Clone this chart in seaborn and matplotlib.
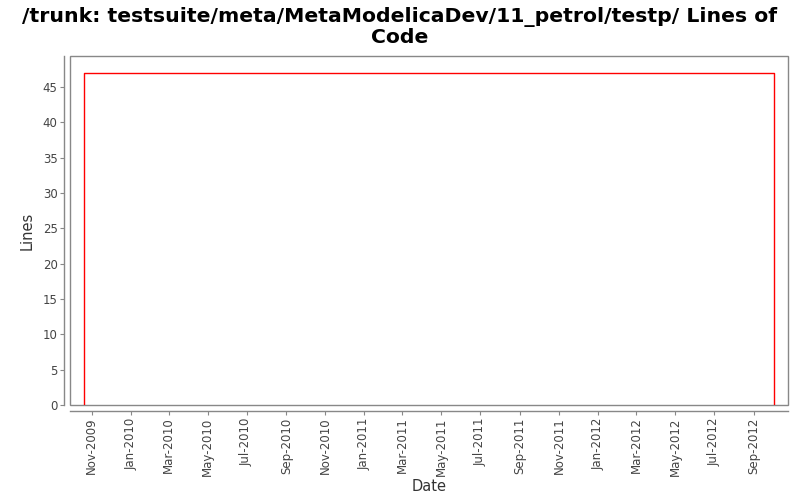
import pandas as pd
import seaborn as sns
import matplotlib.pyplot as plt
import matplotlib.dates as mdates
from matplotlib.patches import Rectangle

# step line of code count over time
dates = ['2009-10-20', '2009-10-20', '2012-10-02', '2012-10-02']
lines = [0, 47, 47, 0]

df = pd.DataFrame({'Date': pd.to_datetime(dates), 'Lines': lines})

sns.set_style('white')
plt.rcParams['font.family'] = ['DejaVu Sans']

fig = plt.figure(figsize=(8, 5), dpi=100)
ax = fig.add_axes([0.0875, 0.19, 0.8975, 0.698])

sns.lineplot(data=df, x='Date', y='Lines', sort=False, estimator=None,
             color='red', linewidth=1, ax=ax)

ax.set_xlim(pd.Timestamp('2009-09-28'), pd.Timestamp('2012-10-24'))
ax.set_ylim(0, 49.4)
ax.set_yticks(range(0, 46, 5))
ax.xaxis.set_major_locator(mdates.MonthLocator(bymonth=[1, 3, 5, 7, 9, 11]))
ax.xaxis.set_major_formatter(mdates.DateFormatter('%b-%Y'))

for s in ['top', 'right']:
    ax.spines[s].set_visible(False)
for s in ['left', 'bottom']:
    ax.spines[s].set_position(('outward', 4))
    ax.spines[s].set_color('#888888')
    ax.spines[s].set_linewidth(1)
ax.add_patch(Rectangle((0, 0), 1, 1, transform=ax.transAxes, fill=False,
                       edgecolor='#888888', linewidth=1, clip_on=False))

ax.tick_params(axis='both', direction='out', length=3, width=0.8,
               color='#888888', labelcolor='#444444', labelsize=8.5,
               left=True, bottom=True, pad=2)
plt.setp(ax.get_xticklabels(), rotation=90)

ax.set_xlabel('Date', fontsize=10.5, color='#333333', labelpad=2)
ax.set_ylabel('Lines', fontsize=10.5, color='#333333', labelpad=6)
fig.text(0.5, 0.946, '/trunk: testsuite/meta/MetaModelicaDev/11_petrol/testp/ Lines of\nCode',
         ha='center', va='center', fontsize=14.7, fontweight='bold',
         linespacing=1.05, color='black')

fig.savefig('out.png', dpi=100)
